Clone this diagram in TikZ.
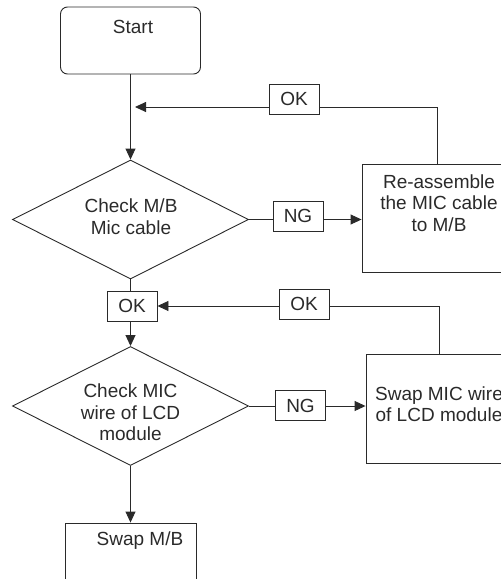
\documentclass[tikz,border=0pt]{standalone}
\usepackage{fontspec}
\setmainfont{Liberation Sans}
\usetikzlibrary{shapes.geometric,arrows.meta}
\definecolor{ink}{HTML}{2A2A2A}
\begin{document}
\begin{tikzpicture}[x=1pt,y=-1pt, line width=0.9pt, draw=ink,
  every node/.style={font=\fontsize{19}{21.5}\selectfont, text=ink},
  box/.style={draw=ink, rectangle, inner sep=0pt},
  tag/.style={draw=ink, fill=white, minimum width=50pt, minimum height=30pt, inner sep=0pt},
  dec/.style={draw=ink, diamond, minimum width=236pt, minimum height=119pt, inner sep=0pt, shape aspect=1.98},
  arr/.style={-{Triangle[length=11pt,width=10pt]}},
  txt/.style={align=center, inner sep=0pt}]
\useasboundingbox (0,0) rectangle (501,579);
\clip (0,0) rectangle (501,579);

% boxes
\node[box, rounded corners=7pt, minimum width=140pt, minimum height=67pt] (start) at (130.5,40.5) {};
\node[txt] (starttxt) at (133,27) {Start};
\node[dec] (d1) at (130.5,219.5) {};
\node[txt] (d1txt) at (131,216.5) {Check M/B\\Mic cable};
\node[box, minimum width=150pt, minimum height=108pt] (fix1) at (437,218) {};
\node[txt] (fix1txt) at (439,203) {Re-assemble\\the MIC cable\\to M/B};
\node[tag] (ok2) at (132,306) {OK};
\node[dec] (d2) at (130.5,406) {};
\node[txt] (d2txt) at (130.5,412.5) {Check MIC\\wire of LCD\\module};
\node[box, minimum width=146pt, minimum height=109pt] (fix2) at (439,408.5) {};
\node[txt] (fix2txt) at (439,404) {Swap MIC wire\\of LCD module};
\node[box, minimum width=131pt, minimum height=67pt] (swap) at (130.5,556.5) {};
\node[txt] (swaptxt) at (140,541) {Swap M/B};

\coordinate (j1) at (135,107);

% connectors
\draw[arr] (start.south) -- (d1.north);
\draw[arr] (fix1.north) |- (j1);
\draw[arr] (d1.east) -- (d1.east -| fix1.west);
\draw (d1.south) -- (d1.south |- ok2.north);
\draw[arr] (ok2.south -| d2.north) -- (d2.north);
\draw[arr] (fix2.north) |- (ok2.east);
\draw[arr] (d2.east) -- (d2.east -| fix2.west);
\draw[arr] (d2.south) -- (swap.north);

% labels on connectors
\node[tag] (ok1) at (294,99) {OK};
\node[tag] (ng1) at (298,216) {NG};
\node[tag] (ok3) at (304,304) {OK};
\node[tag] (ng2) at (300.5,405.5) {NG};
\end{tikzpicture}
\end{document}
